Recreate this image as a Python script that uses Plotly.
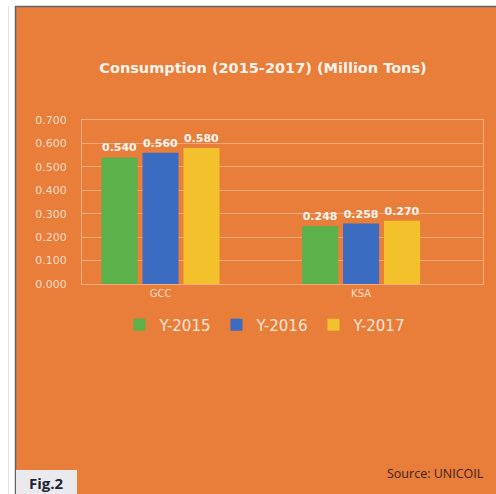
import plotly.graph_objects as go

categories = ["GCC", "KSA"]
series_names = ["Y-2015", "Y-2016", "Y-2017"]
y2015 = [0.540, 0.248]
y2016 = [0.560, 0.258]
y2017 = [0.580, 0.270]
labels2015 = ["0.540", "0.248"]
labels2016 = ["0.560", "0.258"]
labels2017 = ["0.580", "0.270"]
tick_vals = [0.0, 0.1, 0.2, 0.3, 0.4, 0.5, 0.6, 0.7]
tick_text = ["0.000", "0.100", "0.200", "0.300", "0.400", "0.500", "0.600", "0.700"]

colors = ["#5DB14B", "#3B6CC2", "#F3C12B"]
ORANGE = "#E97D3A"
W, H = 496, 494
L, R, T, B = 82, 13, 120, 210
pw, ph = W - L - R, H - T - B

def px_x(p):
    return (p - L) / pw

def px_y(p):
    return (H - B - p) / ph

fig = go.Figure()
for name, vals, labs, c in zip(series_names, [y2015, y2016, y2017],
                               [labels2015, labels2016, labels2017], colors):
    fig.add_trace(go.Bar(
        x=categories, y=vals, name=name, marker=dict(color=c, line=dict(width=0)),
        text=labs, textposition="outside", cliponaxis=False,
        textfont=dict(family="DejaVu Sans", size=11, color="#FFF6F0", weight="bold"),
    ))

shapes = [
    dict(type="rect", xref="paper", yref="paper", x0=px_x(0), x1=px_x(15), y0=px_y(H), y1=px_y(0),
         fillcolor="white", line=dict(width=0), layer="below"),
    dict(type="rect", xref="paper", yref="paper", x0=px_x(0), x1=px_x(W), y0=px_y(6), y1=px_y(0),
         fillcolor="white", line=dict(width=0), layer="below"),
    dict(type="line", xref="paper", yref="paper", x0=px_x(15.5), x1=px_x(15.5), y0=px_y(H), y1=px_y(6),
         line=dict(color="#5E6472", width=1.5)),
    dict(type="line", xref="paper", yref="paper", x0=px_x(15), x1=px_x(W), y0=px_y(6.5), y1=px_y(6.5),
         line=dict(color="#5E6472", width=1.5)),
    dict(type="line", xref="paper", yref="paper", x0=px_x(8.5), x1=px_x(8.5), y0=px_y(H), y1=px_y(6),
         line=dict(color="#E4E4E8", width=1)),
    dict(type="rect", xref="paper", yref="paper", x0=px_x(16), x1=px_x(77), y0=px_y(H), y1=px_y(470),
         fillcolor="#E9E9EE", line=dict(width=0)),
]

annotations = [
    dict(text="Fig.2", xref="paper", yref="paper", x=px_x(46), y=px_y(483), xanchor="center", yanchor="middle",
         showarrow=False, font=dict(family="Open Sans", size=15, color="#22222E", weight="bold")),
    dict(text="Source: UNICOIL", xref="paper", yref="paper", x=px_x(486), y=px_y(473), xanchor="right",
         yanchor="middle", showarrow=False, font=dict(family="Open Sans", size=12.5, color="#3A2418")),
]

fig.update_layout(
    width=W, height=H,
    margin=dict(l=L, r=R, t=T, b=B, autoexpand=False),
    paper_bgcolor=ORANGE, plot_bgcolor=ORANGE,
    barmode="group", bargap=0.387, bargroupgap=0.12,
    title=dict(text="Consumption (2015-2017) (Million Tons)", xref="container", yref="container",
               x=263 / W, xanchor="center", y=1 - 68 / H, yanchor="middle",
               font=dict(family="DejaVu Sans", size=14.5, color="#FFF3EA", weight="bold")),
    xaxis=dict(range=[-0.3915, 1.608], showgrid=False, showline=True, mirror=True,
               linecolor="rgba(255,235,220,0.45)", linewidth=1, ticks="", automargin=False,
               tickfont=dict(family="DejaVu Sans", size=10, color="#F8DCCB")),
    yaxis=dict(range=[0, 0.7], tickvals=tick_vals, ticktext=tick_text, showgrid=True,
               gridcolor="rgba(255,235,220,0.4)", gridwidth=1, showline=True, mirror=True,
               linecolor="rgba(255,235,220,0.45)", zeroline=False, ticks="", ticklabelstandoff=12,
               automargin=False,
               tickfont=dict(family="DejaVu Sans", size=11, color="#F8DCCB")),
    legend=dict(orientation="h", x=px_x(265), xanchor="center", y=px_y(325), yanchor="middle",
                font=dict(family="DejaVu Sans", size=15, color="#FBE6D9"), itemwidth=30,
                bgcolor="rgba(0,0,0,0)"),
    shapes=shapes, annotations=annotations,
    font=dict(family="DejaVu Sans"),
)

fig.write_html(
    "out.html",
    post_script="document.documentElement.style.overflow='hidden';document.body.style.overflow='hidden';document.body.style.margin='0';",
)
